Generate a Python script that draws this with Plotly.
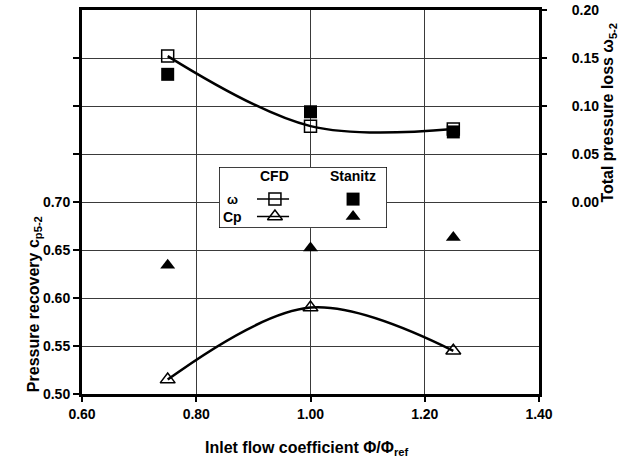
import plotly.graph_objects as go

# Inlet flow coefficient, normalised by the design value
phi_ratio = [0.75, 1.00, 1.25]

# Total pressure loss omega_5-2 (right axis)
omega_cfd = [0.152, 0.079, 0.076]
omega_stanitz = [0.133, 0.094, 0.073]

# Pressure recovery cp_5-2 (left axis)
cp_cfd = [0.515, 0.590, 0.545]
cp_stanitz = [0.634, 0.652, 0.663]

x_ticks = [0.60, 0.80, 1.00, 1.20, 1.40]
cp_ticks = [0.50, 0.55, 0.60, 0.65, 0.70]
cp_upper_ticks = [0.75, 0.80, 0.85]
omega_ticks = [0.00, 0.05, 0.10, 0.15, 0.20]

FONT = "Liberation Sans, Arial, sans-serif"
BLACK = "#000000"
GRID = "#3a3a3a"

fig = go.Figure()

# --- data series -----------------------------------------------------------
fig.add_trace(go.Scatter(
    x=phi_ratio, y=cp_cfd, mode="lines+markers",
    line=dict(color=BLACK, width=2.5, shape="spline"),
    marker=dict(symbol="triangle-up-open", size=13, color=BLACK,
                line=dict(width=1.5, color=BLACK)),
    cliponaxis=False, showlegend=False))
fig.add_trace(go.Scatter(
    x=phi_ratio, y=cp_stanitz, mode="markers",
    marker=dict(symbol="triangle-up", size=13, color=BLACK),
    cliponaxis=False, showlegend=False))
fig.add_trace(go.Scatter(
    x=phi_ratio, y=omega_cfd, yaxis="y2", mode="lines+markers",
    line=dict(color=BLACK, width=2.5, shape="spline"),
    marker=dict(symbol="square-open", size=12, color=BLACK,
                line=dict(width=1.5, color=BLACK)),
    cliponaxis=False, showlegend=False))
fig.add_trace(go.Scatter(
    x=phi_ratio, y=omega_stanitz, yaxis="y2", mode="markers",
    marker=dict(symbol="square", size=13, color=BLACK),
    cliponaxis=False, showlegend=False))

# --- key box drawn on its own hidden axes ------------------------------------
key_col_cfd, key_col_stanitz, key_col_label = 0.333, 0.798, 0.083
key_row_head, key_row_omega, key_row_cp = 0.85, 0.475, 0.19
key_line = [0.226, 0.417]

# white panel with black frame, covering the grid behind it
fig.add_trace(go.Scatter(
    x=[0, 1, 1, 0, 0], y=[0, 0, 1, 1, 0], xaxis="x3", yaxis="y3",
    mode="lines", fill="toself", fillcolor="white",
    line=dict(color=BLACK, width=1.5), cliponaxis=False,
    showlegend=False, hoverinfo="skip"))

for row, sym_open, sym_full in [(key_row_omega, "square-open", "square"),
                                (key_row_cp, "triangle-up-open", "triangle-up")]:
    size_open = 12 if sym_open == "square-open" else 13
    fig.add_trace(go.Scatter(
        x=key_line, y=[row, row], xaxis="x3", yaxis="y3", mode="lines",
        line=dict(color=BLACK, width=1.5), showlegend=False, hoverinfo="skip"))
    fig.add_trace(go.Scatter(
        x=[key_col_cfd], y=[row], xaxis="x3", yaxis="y3", mode="markers",
        marker=dict(symbol=sym_open, size=size_open, color=BLACK,
                    line=dict(width=1.5, color=BLACK)),
        cliponaxis=False, showlegend=False, hoverinfo="skip"))
    fig.add_trace(go.Scatter(
        x=[key_col_stanitz], y=[row], xaxis="x3", yaxis="y3", mode="markers",
        marker=dict(symbol=sym_full, size=13, color=BLACK),
        cliponaxis=False, showlegend=False, hoverinfo="skip"))

key_texts = [
    ("CFD", key_col_cfd, key_row_head, 14),
    ("Stanitz", key_col_stanitz, key_row_head, 14),
    ("ω", key_col_label, key_row_omega, 13),
    ("Cp", key_col_label, key_row_cp, 14),
]
annotations = []
for text, kx, ky, fs in key_texts:
    annotations.append(dict(
        text=text, x=kx, y=ky, xref="x3", yref="y3", showarrow=False,
        xanchor="center", yanchor="middle",
        font=dict(family=FONT, size=fs, color=BLACK, weight="bold")))

# --- axis titles -------------------------------------------------------------
title_font = dict(family=FONT, size=16, color=BLACK, weight="bold")
annotations += [
    dict(text="Inlet flow coefficient Φ/Φ<sub>ref</sub>", x=0.4934, y=-0.143,
         xref="paper", yref="paper", showarrow=False,
         xanchor="center", yanchor="middle", font=title_font),
    dict(text="Pressure recovery c<sub>p5-2</sub>", x=-0.105, y=0.234,
         xref="paper", yref="paper", showarrow=False, textangle=-90,
         xanchor="center", yanchor="middle", font=title_font),
    dict(text="Total pressure loss ω<sub>5-2</sub>", x=1.152, y=0.734,
         xref="paper", yref="paper", showarrow=False, textangle=-90,
         xanchor="center", yanchor="middle", font=title_font),
]

tick_font = dict(family=FONT, size=14, color=BLACK, weight="bold")

fig.update_layout(
    width=619, height=462,
    margin=dict(l=82, r=80, t=10, b=68),
    paper_bgcolor="white", plot_bgcolor="white",
    font=dict(family=FONT, color=BLACK),
    xaxis=dict(
        range=[0.6, 1.4], tickvals=x_ticks, tickformat=".2f",
        showline=True, linecolor=BLACK, linewidth=3, mirror=True,
        ticks="outside", ticklen=5, tickwidth=2, tickcolor=BLACK,
        showgrid=True, gridcolor=GRID, gridwidth=1,
        zeroline=False, tickfont=tick_font, automargin=False),
    yaxis=dict(
        range=[0.5, 0.9], tickvals=cp_ticks, tickformat=".2f",
        showline=True, linecolor=BLACK, linewidth=3,
        ticks="outside", ticklen=6, tickwidth=2, tickcolor=BLACK,
        showgrid=True, gridcolor=GRID, gridwidth=1,
        minor=dict(tickvals=cp_upper_ticks, ticks="outside", ticklen=6,
                   tickwidth=2, tickcolor=BLACK, showgrid=True,
                   gridcolor=GRID, gridwidth=1),
        zeroline=False, tickfont=tick_font, automargin=False),
    yaxis2=dict(
        range=[-0.2, 0.2], tickvals=omega_ticks, tickformat=".2f",
        overlaying="y", side="right", anchor="x",
        showline=True, linecolor=BLACK, linewidth=3,
        ticks="outside", ticklen=5, tickwidth=2, tickcolor=BLACK,
        ticklabelstandoff=22,
        showgrid=False, zeroline=False, tickfont=tick_font, automargin=False),
    xaxis3=dict(domain=[0.2998, 0.6674], range=[0, 1], visible=False,
                anchor="y3", fixedrange=True),
    yaxis3=dict(domain=[0.432, 0.591], range=[0, 1], visible=False,
                anchor="x3", fixedrange=True),
    annotations=annotations,
    showlegend=False,
)

fig.write_html("out.html")
